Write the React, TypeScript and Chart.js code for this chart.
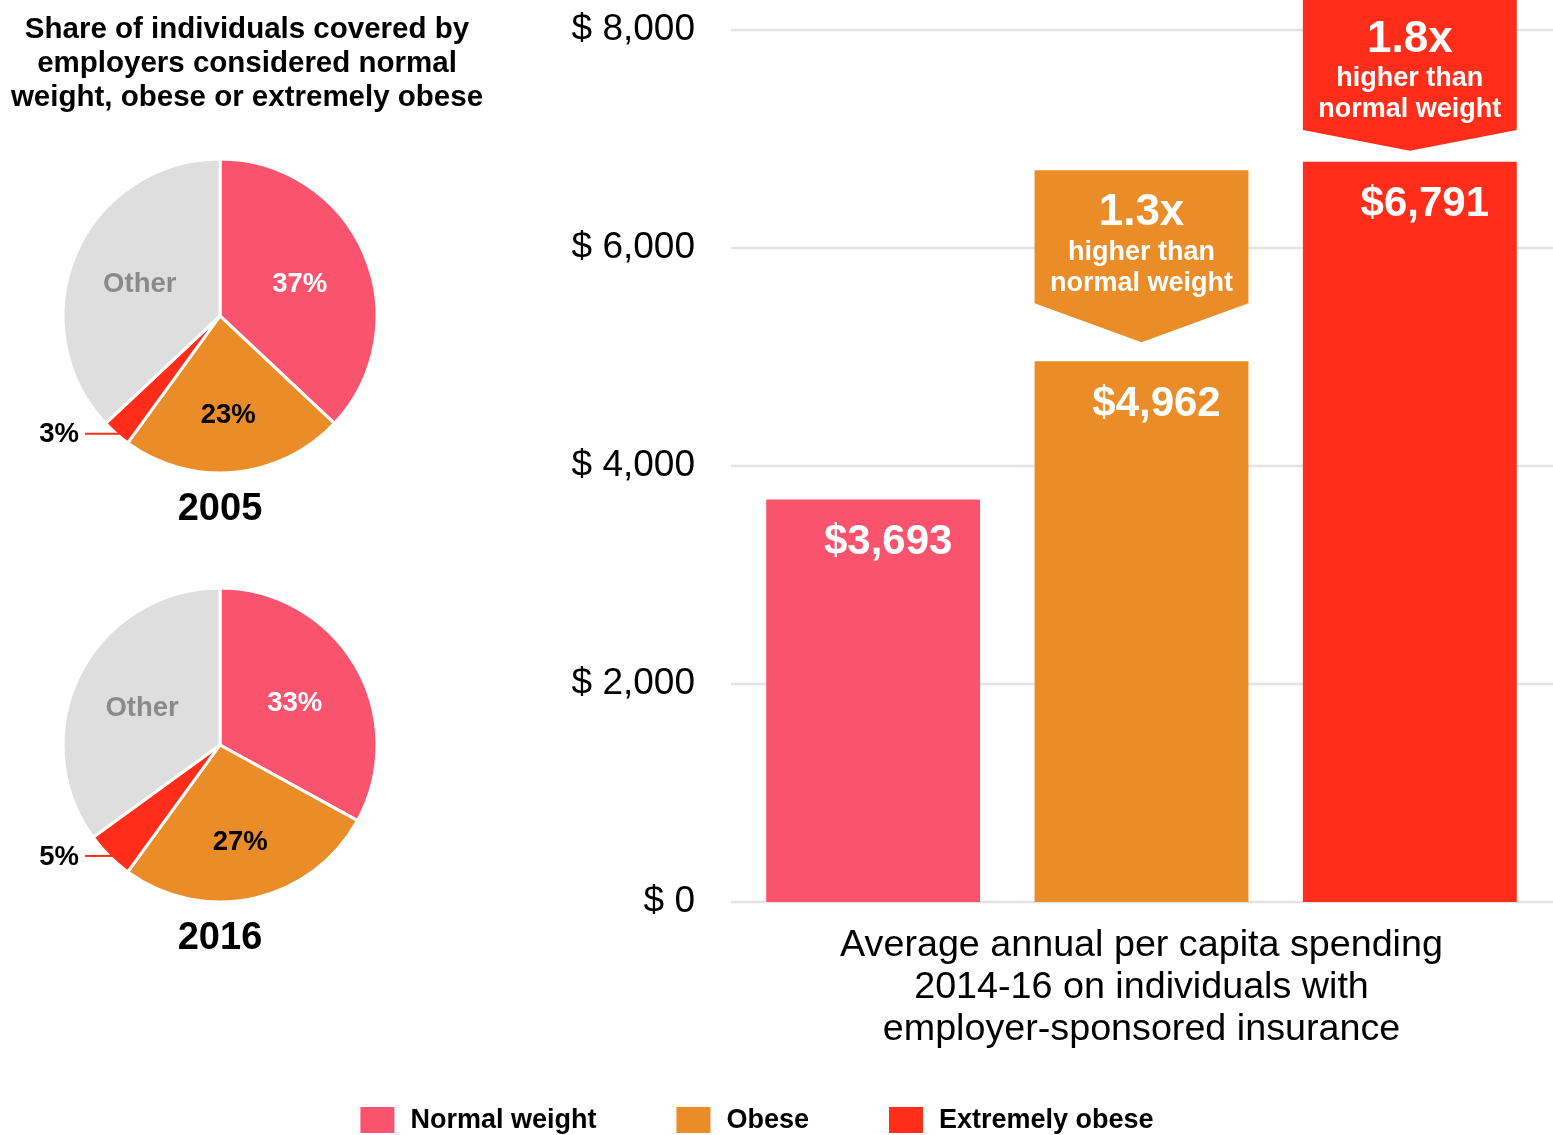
import React, { useEffect, useRef } from 'react';
import { Chart, registerables } from 'chart.js';

Chart.register(...registerables);

const FONT = "'Liberation Sans', Arial, Helvetica, sans-serif";

// ---------- data ----------
const headerLines = [
  'Share of individuals covered by',
  'employers considered normal',
  'weight, obese or extremely obese',
];

const pieLabels = ['Normal weight', 'Obese', 'Extremely obese', 'Other'];
const pie2005Values = [37, 23, 3, 37];
const pie2016Values = [33, 27, 5, 35];
const pieYears = ['2005', '2016'];

const barCategories = ['Normal weight', 'Obese', 'Extremely obese'];
const barValues = [3693, 4962, 6791];
const yTickValues = [0, 2000, 4000, 6000, 8000];
const xTitleLines = [
  'Average annual per capita spending',
  '2014-16 on individuals with',
  'employer-sponsored insurance',
];
const calloutLines = ['higher than', 'normal weight'];

// ---------- styles ----------
const pieColors = ['#F9536E', '#EA8C27', '#FF2D19', '#DEDEDE'];
const pieTextColors = ['#FFFFFF', '#000000', '#000000', '#8A8A8A'];
const pieLabelRadius = [0.56, 0.62, 1, 0.55];
const barColors = ['#F9536E', '#EA8C27', '#FF2D19'];

Chart.defaults.font.family = FONT;

const pieLabelPlugin = {
  id: 'pieLabels',
  afterDatasetsDraw(chart: any) {
    const ctx = chart.ctx;
    const meta = chart.getDatasetMeta(0);
    const data = chart.data.datasets[0].data as number[];
    const labels = chart.data.labels as string[];
    meta.data.forEach((arc: any, i: number) => {
      const p = arc.getProps(['x', 'y', 'startAngle', 'endAngle', 'outerRadius'], true);
      const mid = (p.startAngle + p.endAngle) / 2;
      const v = data[i];
      ctx.save();
      ctx.font = `bold 27.5px ${FONT}`;
      ctx.textBaseline = 'middle';
      if (v < 6) {
        const ex = p.x + Math.cos(mid) * p.outerRadius;
        const ey = p.y + Math.sin(mid) * p.outerRadius;
        ctx.strokeStyle = pieColors[i];
        ctx.lineWidth = 2;
        ctx.beginPath();
        ctx.moveTo(p.x - 135, ey);
        ctx.lineTo(ex + 5, ey);
        ctx.stroke();
        ctx.fillStyle = '#000';
        ctx.textAlign = 'right';
        ctx.fillText(v + '%', p.x - 141, ey + 1);
      } else {
        const r = p.outerRadius * pieLabelRadius[i];
        const tx = p.x + Math.cos(mid) * r;
        const ty = p.y + Math.sin(mid) * r;
        ctx.fillStyle = pieTextColors[i];
        ctx.textAlign = 'center';
        const text = labels[i] === 'Other' ? 'Other' : v + '%';
        ctx.fillText(text, tx - 1, ty + 3);
      }
      ctx.restore();
    });
  },
};

function pieConfig(values: number[], year: string): any {
  return {
    type: 'pie',
    data: {
      labels: pieLabels,
      datasets: [
        {
          data: values,
          backgroundColor: pieColors,
          borderColor: '#FFFFFF',
          borderWidth: 3,
        },
      ],
    },
    options: {
      responsive: false,
      animation: false,
      layout: { padding: { left: 61.5, right: 61.5, top: 17.5, bottom: 0 } },
      plugins: {
        legend: { display: false },
        tooltip: { enabled: false },
        title: {
          display: true,
          position: 'bottom',
          text: year,
          color: '#000',
          font: { size: 38, weight: 'bold', family: FONT, lineHeight: 1.2 },
          padding: { top: 12, bottom: 0 },
        },
      },
    },
    plugins: [pieLabelPlugin],
  };
}

const gridPlugin = {
  id: 'extGrid',
  beforeDatasetsDraw(chart: any) {
    const { ctx, chartArea } = chart;
    const y = chart.scales.y;
    ctx.save();
    ctx.strokeStyle = '#E3E3E3';
    ctx.lineWidth = 2.5;
    y.ticks.forEach((t: any) => {
      const py = y.getPixelForValue(t.value);
      ctx.beginPath();
      ctx.moveTo(chartArea.left - 8, py);
      ctx.lineTo(chart.width, py);
      ctx.stroke();
    });
    ctx.restore();
  },
};

const barAnnotPlugin = {
  id: 'barAnnot',
  afterDatasetsDraw(chart: any) {
    const ctx = chart.ctx;
    const meta = chart.getDatasetMeta(0);
    const ds = chart.data.datasets[0];
    const data = ds.data as number[];
    meta.data.forEach((bar: any, i: number) => {
      const { x, y, width } = bar.getProps(['x', 'y', 'width'], true);
      ctx.save();
      ctx.textAlign = 'center';
      ctx.textBaseline = 'middle';
      ctx.fillStyle = '#FFFFFF';
      ctx.font = `bold 42px ${FONT}`;
      ctx.fillText('$' + data[i].toLocaleString('en-US'), x + 15, y + 43);
      if (i > 0) {
        const ratio = (data[i] / data[0]).toFixed(1) + 'x';
        const rectH = 133;
        let arrowH = 39;
        let gap = 19;
        let top = y - gap - arrowH - rectH;
        if (top < -3) {
          top = -3;
          const space = y - (top + rectH);
          arrowH = space * 0.65;
          gap = space - arrowH;
        }
        const l = x - width / 2;
        const r = x + width / 2;
        const bottom = top + rectH;
        ctx.fillStyle = ds.backgroundColor[i];
        ctx.beginPath();
        ctx.moveTo(l, top);
        ctx.lineTo(r, top);
        ctx.lineTo(r, bottom);
        ctx.lineTo(x, bottom + arrowH);
        ctx.lineTo(l, bottom);
        ctx.closePath();
        ctx.fill();
        ctx.fillStyle = '#FFFFFF';
        ctx.font = `bold 44px ${FONT}`;
        ctx.fillText(ratio, x, top + 43);
        ctx.font = `bold 27px ${FONT}`;
        ctx.fillText(calloutLines[0], x, top + 82);
        ctx.fillText(calloutLines[1], x, top + 113);
      }
      ctx.restore();
    });
  },
};

const legendPlugin = {
  id: 'customLegend',
  afterDraw(chart: any) {
    const ctx = chart.ctx;
    const labels = chart.data.labels as string[];
    const colors = chart.data.datasets[0].backgroundColor as string[];
    ctx.save();
    ctx.font = `bold 27px ${FONT}`;
    const boxW = 34;
    const boxH = 26;
    const gap = 16;
    const spacing = 80;
    const widths = labels.map((l) => boxW + gap + ctx.measureText(l).width);
    const total = widths.reduce((a, b) => a + b, 0) + spacing * (labels.length - 1);
    let x = 757 - total / 2;
    const cy = 1120;
    labels.forEach((l, i) => {
      ctx.fillStyle = colors[i];
      ctx.fillRect(x, cy - boxH / 2, boxW, boxH);
      ctx.fillStyle = '#000';
      ctx.textAlign = 'left';
      ctx.textBaseline = 'middle';
      ctx.fillText(l, x + boxW + gap, cy + 1);
      x += widths[i] + spacing;
    });
    ctx.restore();
  },
};

function barConfig(): any {
  return {
    type: 'bar',
    data: {
      labels: barCategories,
      datasets: [
        {
          label: 'Average annual per capita spending',
          data: barValues,
          backgroundColor: barColors,
          borderWidth: 0,
          barPercentage: 0.797,
          categoryPercentage: 1,
        },
      ],
    },
    options: {
      responsive: false,
      animation: false,
      layout: { padding: { top: 30, right: 9, left: 0, bottom: 0 } },
      plugins: {
        legend: { display: false },
        tooltip: { enabled: false },
      },
      scales: {
        x: {
          ticks: { display: false },
          grid: { display: false, drawTicks: false },
          border: { display: false },
          title: {
            display: true,
            text: xTitleLines,
            color: '#000',
            font: { size: 37.7, family: FONT, lineHeight: 42 / 37.7 },
            padding: { top: 0, bottom: 84 },
          },
          afterFit: (s: any) => {
            s.height = 233;
          },
        },
        y: {
          min: 0,
          max: 8000,
          afterBuildTicks: (s: any) => {
            s.ticks = yTickValues.map((v) => ({ value: v }));
          },
          ticks: {
            color: '#000',
            padding: 0,
            font: { size: 37, family: FONT },
            callback: (v: any) => '$ ' + Number(v).toLocaleString('en-US'),
          },
          grid: { display: false, drawTicks: true, tickLength: 44 },
          border: { display: false },
          afterFit: (s: any) => {
            s.width = 739;
          },
        },
      },
    },
    plugins: [gridPlugin, barAnnotPlugin, legendPlugin],
  };
}

export default function App() {
  const barRef = useRef<HTMLCanvasElement>(null);
  const pie1Ref = useRef<HTMLCanvasElement>(null);
  const pie2Ref = useRef<HTMLCanvasElement>(null);

  useEffect(() => {
    const charts: Chart[] = [];
    if (barRef.current) charts.push(new Chart(barRef.current, barConfig()));
    if (pie1Ref.current) charts.push(new Chart(pie1Ref.current, pieConfig(pie2005Values, pieYears[0])));
    if (pie2Ref.current) charts.push(new Chart(pie2Ref.current, pieConfig(pie2016Values, pieYears[1])));
    return () => charts.forEach((c) => c.destroy());
  }, []);

  return (
    <div
      style={{
        position: 'absolute',
        left: 0,
        top: 0,
        width: 1553,
        height: 1135,
        background: '#fff',
        overflow: 'hidden',
      }}
    >
      <canvas ref={barRef} width={1553} height={1135} style={{ position: 'absolute', left: 0, top: 0 }} />
      <div
        style={{
          position: 'absolute',
          left: 0,
          top: 11,
          width: 494,
          textAlign: 'center',
          fontFamily: FONT,
          fontWeight: 'bold',
          fontSize: 29.5,
          lineHeight: '34px',
          color: '#000',
          whiteSpace: 'nowrap',
        }}
      >
        {headerLines.map((l) => (
          <div key={l}>{l}</div>
        ))}
      </div>
      <canvas ref={pie1Ref} width={440} height={392} style={{ position: 'absolute', left: 0, top: 140 }} />
      <canvas ref={pie2Ref} width={440} height={392} style={{ position: 'absolute', left: 0, top: 569 }} />
    </div>
  );
}
